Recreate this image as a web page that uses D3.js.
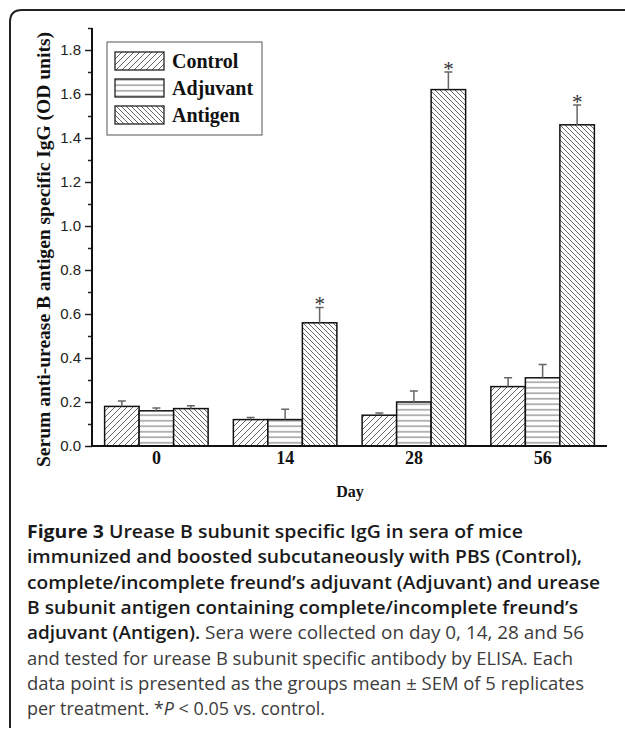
<!DOCTYPE html>
<html>
<head>
<meta charset="utf-8">
<script src="https://cdn.jsdelivr.net/npm/d3@7"></script>
<style>
  html, body { margin: 0; padding: 0; background: #fff; }
  svg { display: block; }
</style>
</head>
<body>
<svg id="chart" width="625" height="731"></svg>
<script>
// ---- data ----
const days = ["0", "14", "28", "56"];
const seriesNames = ["Control", "Adjuvant", "Antigen"];
const controlMean = [0.18, 0.12, 0.14, 0.27];
const controlSem = [0.025, 0.01, 0.01, 0.04];
const adjuvantMean = [0.16, 0.12, 0.20, 0.31];
const adjuvantSem = [0.013, 0.047, 0.05, 0.06];
const antigenMean = [0.17, 0.56, 1.62, 1.46];
const antigenSem = [0.013, 0.07, 0.08, 0.09];
const antigenSignificant = [false, true, true, true];
const yMajorTicks = [0.0, 0.2, 0.4, 0.6, 0.8, 1.0, 1.2, 1.4, 1.6, 1.8];
const yMinorTicks = [0.1, 0.3, 0.5, 0.7, 0.9, 1.1, 1.3, 1.5, 1.7, 1.9];
const yTitle = "Serum anti-urease B antigen specific IgG (OD units)";
const xTitle = "Day";

const captionLines = [
  [{t: "Figure 3", w: 700}, {t: " Urease B subunit specific IgG in sera of mice", w: 600}],
  [{t: "immunized and boosted subcutaneously with PBS (Control),", w: 600}],
  [{t: "complete/incomplete freund\u2019s adjuvant (Adjuvant) and urease", w: 600}],
  [{t: "B subunit antigen containing complete/incomplete freund\u2019s", w: 600}],
  [{t: "adjuvant (Antigen).", w: 600}, {t: " Sera were collected on day 0, 14, 28 and 56", w: 400}],
  [{t: "and tested for urease B subunit specific antibody by ELISA. Each", w: 400}],
  [{t: "data point is presented as the groups mean \u00b1 SEM of 5 replicates", w: 400}],
  [{t: "per treatment. *", w: 400}, {t: "P", w: 400, i: true}, {t: " < 0.05 vs. control.", w: 400}]
];
const captionRight = [523, 582, 600, 578, 584, 573, 584, 325];

// ---- build table ----
const seriesMeans = [controlMean, adjuvantMean, antigenMean];
const seriesSems = [controlSem, adjuvantSem, antigenSem];
const rows = [];
days.forEach((d, i) => {
  seriesNames.forEach((s, j) => {
    rows.push({day: d, series: s, mean: seriesMeans[j][i], sem: seriesSems[j][i],
      sig: s === "Antigen" && antigenSignificant[i]});
  });
});

const svg = d3.select("#chart");
const serif = "'Liberation Serif', 'Times New Roman', serif";
const sans = "'Liberation Sans', Arial, sans-serif";

// frame
svg.append("path")
  .attr("d", "M10,728 L10,22 Q10,10 22,10 L625,10")
  .attr("fill", "none").attr("stroke", "#222").attr("stroke-width", 2);

// patterns
const defs = svg.append("defs");
const pat = (id, w, h, draw) => {
  const p = defs.append("pattern").attr("id", id).attr("patternUnits", "userSpaceOnUse")
    .attr("width", w).attr("height", h);
  p.append("rect").attr("width", w).attr("height", h).attr("fill", "#fff");
  draw(p);
};
pat("hatchControl", 6, 6, p => {
  p.append("path").attr("d", "M-1,1 L1,-1 M0,6 L6,0 M5,7 L7,5")
    .attr("stroke", "#555").attr("stroke-width", 0.9);
});
pat("hatchAdjuvant", 6, 5.5, p => {
  p.append("path").attr("d", "M0,2.75 L6,2.75")
    .attr("stroke", "#555").attr("stroke-width", 0.9);
});
pat("hatchAntigen", 5, 5, p => {
  p.append("path").attr("d", "M-1,4 L1,6 M0,0 L5,5 M4,-1 L6,1")
    .attr("stroke", "#555").attr("stroke-width", 0.9);
});
const fillFor = {Control: "url(#hatchControl)", Adjuvant: "url(#hatchAdjuvant)", Antigen: "url(#hatchAntigen)"};

// scales
const y = d3.scaleLinear().domain([0, 1.9]).range([446, 28]);
const x = d3.scaleBand().domain(days).range([92, 607]).paddingInner(0.196).paddingOuter(0.098);
const xs = d3.scaleBand().domain(seriesNames).range([0, x.bandwidth()]);

// bars
const g = svg.append("g");
g.selectAll("rect.bar").data(rows).join("rect")
  .attr("class", "bar")
  .attr("x", d => x(d.day) + xs(d.series))
  .attr("y", d => y(d.mean))
  .attr("width", xs.bandwidth())
  .attr("height", d => y(0) - y(d.mean))
  .attr("fill", d => fillFor[d.series])
  .attr("stroke", "#111").attr("stroke-width", 1.5);

// error bars
const cx = d => x(d.day) + xs(d.series) + xs.bandwidth() / 2;
g.selectAll("path.err").data(rows).join("path")
  .attr("class", "err")
  .attr("d", d => {
    const c = cx(d), t = y(d.mean + d.sem), b = y(d.mean);
    return `M${c},${b} L${c},${t} M${c - 4},${t} L${c + 4},${t}`;
  })
  .attr("fill", "none").attr("stroke", "#666").attr("stroke-width", 1.5);

// asterisks
g.selectAll("text.sig").data(rows.filter(d => d.sig)).join("text")
  .attr("class", "sig")
  .attr("x", d => cx(d))
  .attr("y", d => y(d.mean + d.sem) + 4)
  .attr("text-anchor", "middle")
  .attr("font-family", serif).attr("font-size", 21).attr("fill", "#333")
  .text("*");

// axes
const yAxis = svg.append("g").attr("transform", "translate(92,0)")
  .call(d3.axisLeft(y).tickValues(yMajorTicks).tickSize(7).tickPadding(4).tickFormat(d3.format(".1f")));
yAxis.select(".domain").remove();
yAxis.selectAll(".tick line").attr("stroke", "#222").attr("stroke-width", 1.5);
yAxis.selectAll(".tick text").attr("font-family", sans).attr("font-size", 15).attr("fill", "#222");

const yMinor = svg.append("g").attr("transform", "translate(92,0)")
  .call(d3.axisLeft(y).tickValues(yMinorTicks).tickSize(4).tickFormat(""));
yMinor.select(".domain").remove();
yMinor.selectAll(".tick line").attr("stroke", "#222").attr("stroke-width", 1.5);

svg.append("line").attr("x1", 92).attr("x2", 92).attr("y1", y(1.9)).attr("y2", y(0) + 1)
  .attr("stroke", "#111").attr("stroke-width", 2);

const xAxis = svg.append("g").attr("transform", `translate(0,${y(0)})`)
  .call(d3.axisBottom(x).tickSize(0).tickPadding(16));
xAxis.select(".domain").attr("d", `M91,0 L607,0`).attr("stroke", "#111").attr("stroke-width", 2);
xAxis.selectAll(".tick text").attr("font-family", serif).attr("font-weight", "bold")
  .attr("font-size", 18).attr("fill", "#111").attr("dy", "0.1em");

// axis titles
svg.append("text")
  .attr("transform", "translate(50,249.5) rotate(-90)")
  .attr("text-anchor", "middle")
  .attr("font-family", serif).attr("font-weight", "bold").attr("font-size", 18.5).attr("fill", "#111")
  .attr("textLength", 435).attr("lengthAdjust", "spacingAndGlyphs")
  .text(yTitle);

svg.append("text")
  .attr("x", 350).attr("y", 497)
  .attr("text-anchor", "middle")
  .attr("font-family", serif).attr("font-weight", "bold").attr("font-size", 16).attr("fill", "#111")
  .text(xTitle);

// legend
const lg = svg.append("g");
lg.append("rect").attr("x", 107).attr("y", 42).attr("width", 155).attr("height", 93)
  .attr("fill", "#fff").attr("stroke", "#555").attr("stroke-width", 1);
seriesNames.forEach((s, i) => {
  lg.append("rect").attr("x", 115).attr("y", 52 + i * 27).attr("width", 49).attr("height", 18)
    .attr("fill", fillFor[s]).attr("stroke", "#222").attr("stroke-width", 1.3);
  lg.append("text").attr("x", 172).attr("y", 68 + i * 27)
    .attr("font-family", serif).attr("font-weight", "bold").attr("font-size", 20).attr("fill", "#111")
    .text(s);
});

// caption
const cap = svg.append("g");
captionLines.forEach((line, i) => {
  const t = cap.append("text").attr("x", 27).attr("y", 538 + i * 25.3)
    .attr("font-family", "'Open Sans', 'Noto Sans', sans-serif").attr("font-size", 18);
  line.forEach(seg => {
    t.append("tspan").attr("font-weight", seg.w)
      .attr("fill", seg.w >= 600 ? "#1a1a1a" : "#3c3c3c")
      .attr("font-style", seg.i ? "italic" : "normal")
      .text(seg.t);
  });
  t.attr("textLength", captionRight[i] - 27).attr("lengthAdjust", "spacingAndGlyphs");
});
</script>
</body>
</html>
